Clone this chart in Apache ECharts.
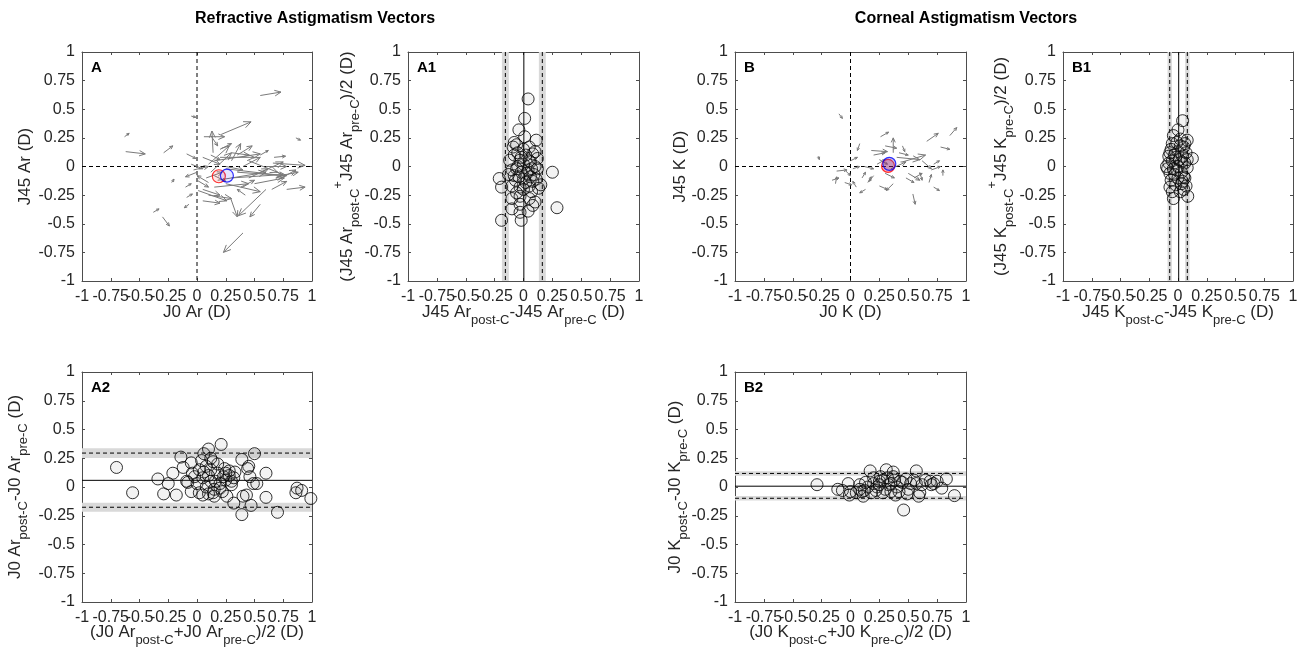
<!DOCTYPE html>
<html><head><meta charset="utf-8">
<script src="https://cdn.jsdelivr.net/npm/echarts@6/dist/echarts.min.js"></script>
<style>html,body{margin:0;padding:0;background:#fff}#c{width:1302px;height:655px}</style>
</head><body><div id="c"></div>
<script>
// ---------- data ----------
const tickValues = [-1, -0.75, -0.5, -0.25, 0, 0.25, 0.5, 0.75, 1];
const tickLabels = ['-1', '-0.75', '-0.5', '-0.25', '0', '0.25', '0.5', '0.75', '1'];
const sectionTitles = ['Refractive Astigmatism Vectors', 'Corneal Astigmatism Vectors'];
const panelLetters = ['A', 'A1', 'B', 'B1', 'A2', 'B2'];

// quiver arrows [x0, y0, x1, y1]
const arrowsA = [
  [0.55,0.62,0.73,0.65],[-0.05,0.44,-0.01,0.43],[-0.63,0.26,-0.59,0.29],[-0.62,0.13,-0.45,0.11],
  [-0.29,0.12,-0.21,0.18],[0.21,0.28,0.47,0.39],[0.14,0.12,0.13,0.31],[0.06,0.26,0.24,0.26],
  [0.12,0.27,0.18,0.18],[0.86,0.25,0.90,0.23],[-0.09,0.11,-0.01,0.07],[0.67,0.08,0.77,0.09],
  [0.66,0.03,0.94,0.01],[0.78,-0.20,0.94,-0.18],[-0.38,-0.40,-0.33,-0.37],[-0.30,-0.44,-0.24,-0.52],
  [0.40,-0.58,0.23,-0.75],[0.60,-0.20,0.36,-0.43],[0.55,-0.33,0.46,-0.44],[0.29,-0.27,0.35,-0.44],
  [0.01,-0.21,0.26,-0.30],[-0.09,-0.27,-0.04,-0.24],[-0.07,-0.33,-0.11,-0.36],[-0.22,-0.14,-0.20,-0.11],
  [0.15,0.05,0.55,0.11],[0.10,0.02,0.28,0.18],[0.20,0.08,0.50,0.08],[0.25,-0.02,0.75,-0.08],
  [0.30,-0.10,0.75,-0.07],[0.35,-0.05,0.78,-0.08],[0.18,-0.12,0.60,-0.05],[0.45,0.05,0.70,-0.05],
  [0.50,-0.15,0.76,-0.10],[0.12,-0.05,0.30,0.12],[0.20,0.15,0.30,0.20],[0.30,0.05,0.38,0.20],
  [0.05,0.08,0.20,0.02],[0.08,-0.10,0.22,-0.05],[0.10,-0.14,0.00,-0.08],[0.00,-0.05,-0.10,-0.09],
  [-0.03,-0.03,0.10,0.00],[0.15,-0.18,0.45,-0.15],[0.25,-0.15,0.55,-0.22],[0.40,0.00,0.55,0.08],
  [0.55,-0.05,0.75,0.04],[0.60,0.00,0.78,0.00],[0.70,-0.12,0.86,-0.03],[0.65,-0.20,0.78,-0.13],
  [0.05,-0.20,0.20,-0.25],[0.10,-0.25,0.30,-0.28],[0.05,-0.30,0.20,-0.32],[0.12,0.10,0.20,0.06],
  [0.30,0.12,0.45,0.10],[0.38,-0.18,0.50,-0.12],[0.25,0.00,0.40,-0.03],[0.45,-0.10,0.62,-0.02],
  [-0.05,0.02,0.05,-0.02],[0.00,-0.12,0.10,-0.18],[0.15,-0.08,0.25,-0.13],[0.72,-0.08,0.88,-0.05],
  [0.35,0.10,0.48,0.18],[0.55,0.10,0.62,0.14],[0.42,-0.25,0.35,-0.20],[-0.10,-0.18,-0.05,-0.15]
];
const arrowsB = [
  [-0.10,0.46,-0.07,0.42],[0.26,0.26,0.33,0.30],[0.66,0.22,0.76,0.29],[0.86,0.27,0.92,0.34],
  [0.78,0.17,0.86,0.15],[0.72,0.02,0.77,0.05],[0.72,-0.18,0.77,-0.21],[0.54,-0.24,0.56,-0.33],
  [-0.28,0.09,-0.27,0.06],[-0.13,-0.15,-0.12,-0.09],[-0.12,-0.04,-0.03,-0.03],[-0.05,-0.14,0.01,-0.16],
  [0.37,-0.15,0.31,-0.21],[0.37,0.12,0.37,0.25],[0.18,0.14,0.32,0.13],[0.20,0.10,0.30,0.12],
  [0.25,0.06,0.32,0.02],[0.40,0.08,0.60,0.06],[0.42,0.12,0.50,0.10],[0.45,0.04,0.65,0.10],
  [0.35,-0.02,0.48,0.04],[0.50,-0.06,0.60,-0.12],[0.48,-0.10,0.55,-0.14],[0.60,-0.05,0.62,-0.12],
  [0.62,0.05,0.70,-0.02],[0.30,-0.06,0.38,-0.10],[0.20,-0.08,0.16,-0.13],[0.10,-0.10,0.13,-0.05],
  [0.00,0.05,0.06,0.08],[0.02,-0.02,0.08,0.00],[-0.04,-0.04,0.00,-0.08],[0.15,-0.14,0.18,-0.09],
  [0.25,-0.17,0.32,-0.20],[0.12,0.00,0.20,-0.02],[0.45,0.18,0.47,0.13],[0.08,0.20,0.06,0.14],
  [0.80,-0.08,0.80,-0.03],[0.68,-0.14,0.70,-0.07],[0.55,-0.10,0.62,-0.06],[0.30,0.18,0.40,0.16],
  [0.23,0.02,0.30,0.06],[0.05,-0.18,0.02,-0.13],[-0.16,-0.12,-0.10,-0.10],[0.13,-0.20,0.08,-0.23],
  [0.70,-0.03,0.78,0.00]
];
// centroid markers
const redCentroidA = [[0.19, -0.085]];
const blueCentroidA = [[0.26, -0.08]];
const redCentroidB = [[0.325, 0.005]];
const blueCentroidB = [[0.336, 0.023]];

// Bland-Altman points
const pointsA1 = [
  [0.04,0.59],[0.01,0.42],[-0.04,0.32],[0.01,0.26],[0.11,0.23],[-0.08,0.21],[-0.09,0.17],[-0.06,0.19],
  [0.05,0.17],[0.08,0.11],[0.12,0.07],[-0.12,0.055],[-0.03,0.055],[0.06,0.04],[-0.06,-0.02],[0.04,-0.03],
  [0.12,-0.02],[0.25,-0.05],[-0.21,-0.105],[-0.19,-0.18],[-0.08,-0.08],[0.00,-0.11],[0.08,-0.13],[0.15,-0.16],
  [-0.10,-0.17],[-0.03,-0.18],[0.05,-0.17],[0.13,-0.19],[-0.10,-0.28],[-0.03,-0.26],[0.05,-0.28],[0.10,-0.31],
  [-0.10,-0.37],[-0.03,-0.33],[0.08,-0.34],[-0.03,-0.40],[-0.02,-0.47],[-0.19,-0.47],[0.29,-0.36],[0.04,-0.39],
  [-0.05,0.00],[0.00,0.02],[0.03,-0.06],[-0.02,-0.05],[0.07,-0.02],[0.09,-0.07],[-0.07,-0.12],[0.02,-0.14],
  [0.06,-0.09],[-0.04,-0.09],[0.10,0.00],[-0.10,-0.03],[0.00,-0.20],[0.07,-0.22],[-0.06,-0.23],[0.02,0.10],
  [-0.08,0.10],[0.10,0.13],[0.00,0.15],[-0.05,0.12],[0.11,-0.11],[-0.13,-0.07],[0.05,0.05],[-0.02,0.08]
];
const pointsB1 = [
  [0.04,0.40],[0.00,0.32],[0.08,0.23],[0.125,0.07],[-0.10,0.00],[-0.04,-0.28],[0.085,-0.26],[-0.07,-0.18],
  [0.02,-0.22],[0.05,-0.09],[-0.05,0.20],[0.05,0.17],[-0.02,0.08],[-0.07,-0.06],[-0.01,-0.03],[0.03,0.04],
  [-0.04,0.27],[0.02,0.24],[0.06,0.20],[-0.06,0.15],[0.00,0.13],[0.07,0.12],[-0.08,0.09],[0.04,0.09],
  [-0.05,0.05],[0.06,0.03],[-0.09,-0.02],[0.00,0.00],[0.08,-0.01],[-0.03,-0.07],[0.03,-0.05],[-0.06,-0.12],
  [0.04,-0.13],[0.07,-0.17],[-0.02,-0.16],[0.00,-0.10],[-0.08,0.03],[0.02,0.18],[-0.03,0.10],[0.05,-0.20],
  [-0.05,-0.22],[0.08,0.06],[-0.07,0.12],[0.01,0.06],[-0.04,-0.02],[0.06,-0.10],[-0.01,0.21],[0.03,-0.15]
];
const pointsA2 = [
  [-0.70,0.17],[-0.56,-0.05],[-0.34,0.07],[-0.29,-0.06],[-0.25,0.03],[-0.21,0.12],[-0.18,-0.07],[-0.14,0.26],
  [-0.12,0.17],[-0.09,0.05],[-0.05,0.21],[-0.05,-0.04],[-0.02,0.09],[0.02,-0.05],[0.04,0.23],[0.06,0.29],
  [0.10,0.33],[0.12,0.15],[0.14,0.22],[0.16,0.05],[0.14,-0.05],[0.20,-0.01],[0.21,0.37],[0.23,0.09],
  [0.24,0.16],[0.26,-0.08],[0.30,0.05],[0.32,-0.14],[0.33,0.13],[0.39,0.24],[0.40,-0.08],[0.39,-0.24],
  [0.43,-0.07],[0.45,0.18],[0.46,0.09],[0.49,0.03],[0.50,0.29],[0.47,-0.16],[0.52,0.03],[0.60,0.12],
  [0.60,-0.09],[0.70,-0.22],[0.86,-0.05],[0.87,-0.01],[0.91,-0.03],[0.99,-0.10],
  [0.00,0.03],[0.05,0.08],[0.08,0.00],[0.10,0.10],[0.12,0.05],[0.15,-0.02],[0.18,0.12],[0.20,0.03],
  [0.22,-0.04],[0.25,0.06],[0.28,0.10],[0.30,0.02],[0.15,-0.08],[0.10,-0.06],[0.05,-0.07],[0.18,0.20],
  [0.08,0.18],[-0.08,0.04],[-0.04,0.12],[0.25,0.12],[0.32,0.08],[0.12,0.25],[0.06,0.13],[0.44,0.16],
  [0.28,0.14],[0.02,0.15]
];
const pointsB2 = [
  [-0.29,0.02],[-0.11,-0.02],[-0.07,-0.03],[-0.02,0.03],[-0.01,-0.07],[0.05,-0.05],[0.08,0.02],[0.10,-0.04],
  [0.11,-0.08],[0.17,0.14],[0.20,0.08],[0.23,0.00],[0.26,0.09],[0.28,-0.05],[0.31,0.15],[0.33,0.02],
  [0.37,0.13],[0.37,0.09],[0.39,-0.07],[0.43,0.05],[0.46,-0.20],[0.49,-0.06],[0.52,0.03],[0.57,0.14],
  [0.57,0.03],[0.59,-0.08],[0.60,-0.05],[0.69,0.05],[0.72,0.03],[0.75,0.05],[0.79,-0.01],[0.83,0.07],
  [0.90,-0.075],
  [0.15,0.00],[0.20,0.03],[0.25,0.05],[0.30,-0.02],[0.35,0.03],[0.28,0.06],[0.22,-0.03],[0.40,0.00],
  [0.45,0.04],[0.50,-0.02],[0.55,0.06],[0.12,-0.03],[0.18,-0.05],[0.32,0.08],[0.42,-0.04],[0.62,0.02],
  [0.65,0.06],[0.70,0.02],[0.08,-0.02],[0.00,-0.04],[0.25,0.02],[0.38,0.06],[0.13,0.04],[0.48,0.07],
  [0.35,-0.04]
];
// [value, CI half-width, kind (0 = mean, 1 = limit of agreement)]
const limitsA1 = [[0.003, 0, 0], [-0.157, 0.03, 1], [0.163, 0.03, 1]];
const limitsB1 = [[0.006, 0, 0], [-0.072, 0.019, 1], [0.081, 0.019, 1]];
const limitsA2 = [[0.058, 0, 0], [-0.176, 0.04, 1], [0.295, 0.042, 1]];
const limitsB2 = [[0.007, 0, 0], [-0.098, 0.02, 1], [0.118, 0.02, 1]];
const zeroLines = [[0, 0]];

// ---------- styling / layout ----------
const FONT = '"Liberation Sans", Arial, Helvetica, sans-serif';
const TXT = '#262626';
const AX = '#4d4d4d';
const grids = [
  {left: 82, top: 52, width: 230, height: 229},
  {left: 408, top: 52, width: 231, height: 229},
  {left: 735, top: 52, width: 231, height: 229},
  {left: 1063, top: 52, width: 230, height: 229},
  {left: 82, top: 372, width: 230, height: 230},
  {left: 735, top: 372, width: 231, height: 230}
];
const xNames = [
  '{n|J0 Ar (D)}',
  '{n|J45 Ar}{s|post-C}{n|-J45 Ar}{s|pre-C}{n| (D)}',
  '{n|J0 K (D)}',
  '{n|J45 K}{s|post-C}{n|-J45 K}{s|pre-C}{n| (D)}',
  '{n|(J0 Ar}{s|post-C}{n|+J0 Ar}{s|pre-C}{n|)/2 (D)}',
  '{n|(J0 K}{s|post-C}{n|+J0 K}{s|pre-C}{n|)/2 (D)}'
];
const yNames = [
  '{n|J45 Ar (D)}',
  '{n|(J45 Ar}{s|post-C}{p|+}{n|J45 Ar}{s|pre-C}{n|)/2 (D)}',
  '{n|J45 K (D)}',
  '{n|(J45 K}{s|post-C}{p|+}{n|J45 K}{s|pre-C}{n|)/2 (D)}',
  '{n|J0 Ar}{s|post-C}{n|-J0 Ar}{s|pre-C}{n| (D)}',
  '{n|J0 K}{s|post-C}{n|-J0 K}{s|pre-C}{n| (D)}'
];
const xGaps = [16, 16, 16, 16, 15, 15];
const yGaps = [42, 46, 40, 47, 52, 45];
const rich = {
  n: {fontSize: 17, fontFamily: FONT, color: TXT, lineHeight: 30},
  s: {fontSize: 13, fontFamily: FONT, color: TXT, lineHeight: 12, verticalAlign: 'bottom'},
  p: {fontSize: 13, fontFamily: FONT, color: TXT, lineHeight: 12, verticalAlign: 'top'}
};
const fmt = v => {
  const i = tickValues.findIndex(t => Math.abs(t - v) < 1e-9);
  return i >= 0 ? tickLabels[i] : '';
};

const xAxis = [], yAxis = [], series = [];
function baseAxis(i, pos) {
  return {
    gridIndex: i, type: 'value', min: -1, max: 1, interval: 0.25, position: pos,
    axisLine: {show: true, onZero: false, lineStyle: {color: AX, width: 1}},
    axisTick: {show: true, inside: true, length: 3, lineStyle: {color: AX}},
    splitLine: {show: false}
  };
}
grids.forEach((g, i) => {
  xAxis.push(Object.assign(baseAxis(i, 'bottom'), {
    name: xNames[i], nameLocation: 'middle', nameGap: xGaps[i], nameMoveOverlap: false,
    nameTextStyle: {rich: rich},
    axisLabel: {show: true, formatter: fmt, margin: 8, fontSize: 16, color: TXT, fontFamily: FONT,
      showMinLabel: true, showMaxLabel: true, hideOverlap: false}
  }));
  xAxis.push(Object.assign(baseAxis(i, 'top'), {axisLabel: {show: false}}));
  yAxis.push(Object.assign(baseAxis(i, 'left'), {
    name: yNames[i], nameLocation: 'middle', nameGap: yGaps[i], nameRotate: 90, nameMoveOverlap: false,
    nameTextStyle: {rich: rich},
    axisLabel: {show: true, formatter: fmt, margin: 7, fontSize: 16, color: TXT, fontFamily: FONT,
      showMinLabel: true, showMaxLabel: true, hideOverlap: false}
  }));
  yAxis.push(Object.assign(baseAxis(i, 'right'), {axisLabel: {show: false}}));
});
const ax = i => ({xAxisIndex: 2 * i, yAxisIndex: 2 * i});

function arrowItem(params, api) {
  const p0 = api.coord([api.value(0), api.value(1)]);
  const p1 = api.coord([api.value(2), api.value(3)]);
  const dx = p1[0] - p0[0], dy = p1[1] - p0[1];
  const len = Math.hypot(dx, dy);
  const st = {stroke: '#7a7a7a', lineWidth: 1, fill: null};
  const ch = [{type: 'line', shape: {x1: p0[0], y1: p0[1], x2: p1[0], y2: p1[1]}, style: st}];
  if (len > 1.5) {
    const h = Math.max(3, Math.min(len * 0.33, 8));
    const a = Math.atan2(dy, dx), w = 0.42;
    ch.push({type: 'polyline', shape: {points: [
      [p1[0] - h * Math.cos(a - w), p1[1] - h * Math.sin(a - w)], p1,
      [p1[0] - h * Math.cos(a + w), p1[1] - h * Math.sin(a + w)]]}, style: st});
  }
  return {type: 'group', children: ch};
}
function crossItem(params, api) {
  const c = api.coord([api.value(0), api.value(1)]);
  const lt = api.coord([-1, 1]), rb = api.coord([1, -1]);
  const st = {stroke: '#000', lineWidth: 1, lineDash: [4, 3], fill: null};
  return {type: 'group', children: [
    {type: 'line', shape: {x1: c[0], y1: lt[1], x2: c[0], y2: rb[1]}, style: st},
    {type: 'line', shape: {x1: lt[0], y1: c[1], x2: rb[0], y2: c[1]}, style: st}
  ]};
}
function limitRenderer(vertical) {
  return function (params, api) {
    const v = api.value(0), ci = api.value(1), kind = api.value(2);
    const ch = [];
    const lt = api.coord([-1, 1]), rb = api.coord([1, -1]);
    if (ci > 0) {
      const a = vertical ? api.coord([v - ci, 1]) : api.coord([-1, v + ci]);
      const b = vertical ? api.coord([v + ci, -1]) : api.coord([1, v - ci]);
      ch.push({type: 'rect', shape: {x: a[0], y: a[1], width: b[0] - a[0], height: b[1] - a[1]},
        style: {fill: '#d9d9d9'}, z2: 0});
    }
    const c = api.coord(vertical ? [v, 0] : [0, v]);
    const st = {stroke: '#000', lineWidth: 1, fill: null, lineDash: kind ? [4, 3] : null};
    ch.push(vertical
      ? {type: 'line', shape: {x1: c[0], y1: lt[1], x2: c[0], y2: rb[1]}, style: st, z2: 2}
      : {type: 'line', shape: {x1: lt[0], y1: c[1], x2: rb[0], y2: c[1]}, style: st, z2: 2});
    return {type: 'group', children: ch};
  };
}
function circles(i, data) {
  return Object.assign({
    type: 'scatter', data: data, symbol: 'circle', symbolSize: 12, z: 5,
    itemStyle: {color: 'rgba(110,110,110,0.1)', borderColor: '#000', borderWidth: 1},
    emphasis: {disabled: true}, silent: true
  }, ax(i));
}
function centroid(i, data, col, fill) {
  return Object.assign({
    type: 'scatter', data: data, symbol: 'circle', symbolSize: 13, z: 6,
    itemStyle: {color: fill, borderColor: col, borderWidth: 1.2},
    emphasis: {disabled: true}, silent: true
  }, ax(i));
}

// Panel A
series.push(Object.assign({type: 'custom', data: zeroLines, renderItem: crossItem, z: 1, silent: true}, ax(0)));
series.push(Object.assign({type: 'custom', data: arrowsA, renderItem: arrowItem, z: 2, silent: true,
  encode: {x: [0, 2], y: [1, 3]}}, ax(0)));
series.push(centroid(0, redCentroidA, '#ff0000', 'rgba(255,0,0,0.12)'));
series.push(centroid(0, blueCentroidA, '#0000ff', 'rgba(0,0,255,0.12)'));
// Panel A1
series.push(Object.assign({type: 'custom', data: limitsA1, renderItem: limitRenderer(true), z: 1, silent: true}, ax(1)));
series.push(circles(1, pointsA1));
// Panel B
series.push(Object.assign({type: 'custom', data: zeroLines, renderItem: crossItem, z: 1, silent: true}, ax(2)));
series.push(Object.assign({type: 'custom', data: arrowsB, renderItem: arrowItem, z: 2, silent: true,
  encode: {x: [0, 2], y: [1, 3]}}, ax(2)));
series.push(centroid(2, redCentroidB, '#ff0000', 'rgba(255,0,0,0.35)'));
series.push(centroid(2, blueCentroidB, '#0000ff', 'rgba(60,60,200,0.35)'));
// Panel B1
series.push(Object.assign({type: 'custom', data: limitsB1, renderItem: limitRenderer(true), z: 1, silent: true}, ax(3)));
series.push(circles(3, pointsB1));
// Panel A2
series.push(Object.assign({type: 'custom', data: limitsA2, renderItem: limitRenderer(false), z: 1, silent: true}, ax(4)));
series.push(circles(4, pointsA2));
// Panel B2
series.push(Object.assign({type: 'custom', data: limitsB2, renderItem: limitRenderer(false), z: 1, silent: true}, ax(5)));
series.push(circles(5, pointsB2));

const graphic = [];
[[315, 0], [966, 1]].forEach(([x, k]) => graphic.push({
  type: 'text', x: x, y: 19, silent: true,
  style: {text: sectionTitles[k], font: 'bold 16px ' + FONT, fill: '#000',
    align: 'center', verticalAlign: 'middle', textAlign: 'center', textVerticalAlign: 'middle'}
}));
grids.forEach((g, i) => graphic.push({
  type: 'text', x: g.left + 9, y: g.top + 16, silent: true,
  style: {text: panelLetters[i], font: 'bold 15px ' + FONT, fill: '#000',
    align: 'left', verticalAlign: 'middle', textAlign: 'left', textVerticalAlign: 'middle'}
}));

const chart = echarts.init(document.getElementById('c'), null, {renderer: 'canvas'});
chart.setOption({
  animation: false,
  backgroundColor: '#fff',
  grid: grids.map(g => Object.assign({containLabel: false}, g)),
  xAxis: xAxis, yAxis: yAxis, series: series, graphic: graphic
});
</script></body></html>
